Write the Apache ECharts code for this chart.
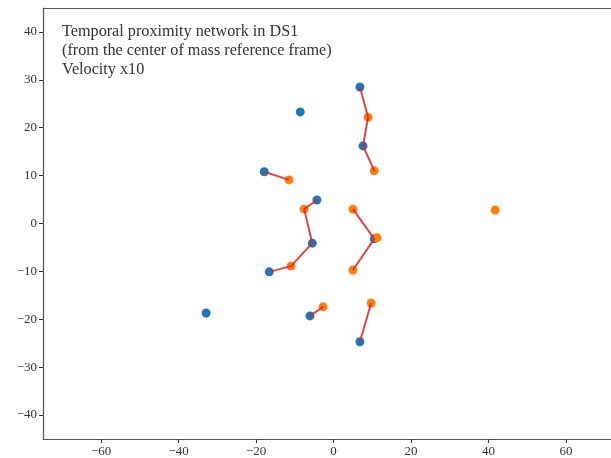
<!DOCTYPE html>
<html>
<head>
<meta charset="utf-8">
<script src="https://cdn.jsdelivr.net/npm/echarts@6/dist/echarts.min.js"></script>
<style>
  html, body { margin: 0; padding: 0; background: #fff; }
  #chart { width: 611px; height: 458px; }
</style>
</head>
<body>
<div id="chart"></div>
<script>
// blue points (positions)
const blueX = [6.8, -8.6, 7.6, -17.9, -4.3, -5.5, -16.6, 10.5, -32.9, -6.1, 6.8];
const blueY = [28.5, 23.3, 16.2, 10.8, 4.9, -4.1, -10.1, -3.2, -18.7, -19.3, -24.7];
// orange points
const orangeX = [8.9, 10.5, -11.5, -7.6, 5.0, 11.2, -11.0, 5.0, -2.7, 9.7, 41.7];
const orangeY = [22.2, 11.0, 9.1, 3.0, 3.0, -3.0, -8.9, -9.7, -17.4, -16.6, 2.8];
// links between points, as chains of point ids
const chains = [
  ['b0', 'o0', 'b2', 'o1'],
  ['b3', 'o2'],
  ['b4', 'o3', 'b5', 'o6', 'b6'],
  ['o4', 'b7', 'o7'],
  ['b9', 'o8'],
  ['b10', 'o9']
];
const xTicks = [-60, -40, -20, 0, 20, 40, 60];
const yTicks = [-40, -30, -20, -10, 0, 10, 20, 30, 40];

function pt(id) {
  const i = +id.slice(1);
  return id[0] === 'b' ? [blueX[i], blueY[i]] : [orangeX[i], orangeY[i]];
}
const fmt = v => v < 0 ? '\u2212' + (-v) : String(v);
const font = '"Liberation Serif", "DejaVu Serif", serif';

const chart = echarts.init(document.getElementById('chart'));
const series = [
  {
    type: 'scatter', symbolSize: 9, z: 2,
    itemStyle: { color: '#1f77b4', opacity: 1 },
    data: blueX.map((x, i) => [x, blueY[i]])
  },
  {
    type: 'scatter', symbolSize: 9, z: 3,
    itemStyle: { color: '#ff7f0e', opacity: 1 },
    data: orangeX.map((x, i) => [x, orangeY[i]])
  }
];
chains.forEach(c => series.push({
  type: 'line', z: 4, showSymbol: false, symbol: 'none', silent: true,
  lineStyle: { color: '#d62728', width: 2, opacity: 0.85 },
  data: c.map(pt)
}));

chart.setOption({
  animation: false,
  title: {
    text: 'Temporal proximity network in DS1\n(from the center of mass reference frame)\nVelocity x10',
    left: 57, top: 17,
    textStyle: { fontFamily: font, fontSize: 16.2, fontWeight: 'normal', color: '#333', lineHeight: 19 }
  },
  grid: { left: 43, right: 0, top: 8, bottom: 19 },
  xAxis: {
    type: 'value', min: -75, max: 71.6,
    splitLine: { show: false },
    axisLine: { onZero: false, lineStyle: { color: '#555', width: 1.2 } },
    axisTick: { customValues: xTicks, length: 4, lineStyle: { color: '#333' } },
    axisLabel: { customValues: xTicks, formatter: fmt, fontFamily: font, fontSize: 13, color: '#333', margin: 6 }
  },
  yAxis: {
    type: 'value', min: -45, max: 45,
    splitLine: { show: false },
    axisLine: { show: true, onZero: false, lineStyle: { color: '#555', width: 1.2 } },
    axisTick: { show: true, customValues: yTicks, length: 4, lineStyle: { color: '#333' } },
    axisLabel: { customValues: yTicks, formatter: fmt, fontFamily: font, fontSize: 13, color: '#333', margin: 6 }
  },
  graphic: [{
    type: 'line', z: 10,
    shape: { x1: 43, y1: 8.5, x2: 611, y2: 8.5 },
    style: { stroke: '#555', lineWidth: 1.2 }
  }],
  series: series
});
</script>
</body>
</html>
